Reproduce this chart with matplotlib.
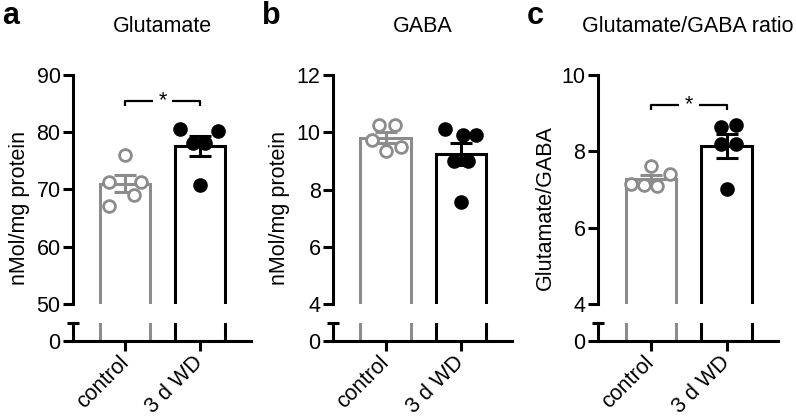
"""
Glutamate / GABA levels after 3 d withdrawal - three bar+scatter panels
with a broken y axis (GraphPad style).
"""

import matplotlib
matplotlib.use("Agg")
import matplotlib.pyplot as plt
import numpy as np

plt.rcParams["font.family"] = ["Liberation Sans", "DejaVu Sans"]

groups = ["control", "3 d WD"]

glu_ctrl = [76.1, 71.3, 71.3, 69.0, 67.2]
glu_wd = [80.6, 80.3, 78.2, 78.2, 70.7]
gaba_ctrl = [10.25, 10.25, 9.74, 9.48, 9.35]
gaba_wd = [10.1, 9.9, 9.9, 9.0, 9.0, 7.56]
ratio_ctrl = [7.62, 7.4, 7.15, 7.12, 7.1]
ratio_wd = [8.64, 8.69, 8.18, 8.18, 7.01]

# horizontal scatter of the dots
glu_ctrl_dx = [0.0, -0.22, 0.21, 0.11, -0.22]
glu_wd_dx = [-0.27, 0.24, -0.09, 0.07, 0.0]
gaba_ctrl_dx = [-0.09, 0.12, -0.18, 0.21, 0.0]
gaba_wd_dx = [-0.21, 0.03, 0.2, -0.09, 0.1, 0.0]
ratio_ctrl_dx = [0.0, 0.25, -0.27, -0.09, 0.08]
ratio_wd_dx = [-0.07, 0.12, -0.07, 0.13, 0.0]

GREY = "#8c8c8c"
FS = 15.5
W, H = 796, 420


def fig_rect(left, right, top, bottom):
    return [left / W, 1 - bottom / H, (right - left) / W, (bottom - top) / H]


def draw_bars(ax, data, dxs, with_points):
    for i, (vals, dx, col) in enumerate(zip(data, dxs, [GREY, "black"])):
        vals = np.asarray(vals)
        m = vals.mean()
        ax.bar(i, m, width=0.67, facecolor="white", edgecolor=col,
               linewidth=2.2, zorder=1)
        if not with_points:
            continue
        sem = vals.std(ddof=1) / np.sqrt(len(vals))
        ax.errorbar(i, m, yerr=sem, color=col, capsize=8, capthick=2.2,
                    elinewidth=2.2, zorder=2)
        face = "white" if i == 0 else "black"
        ax.plot(i + np.asarray(dx), vals, "o", ms=8.5, mfc=face, mec=col,
                mew=2, zorder=3, clip_on=False)


def panel(left, right, letter, title, ylabel, ylim, yticks, data, dxs, sig=None):
    fig = plt.gcf()
    top_ax = fig.add_axes(fig_rect(left, right, 75, 304))
    low_ax = fig.add_axes(fig_rect(left, right, 323, 341))

    for ax, pts in ((top_ax, True), (low_ax, False)):
        draw_bars(ax, data, dxs, pts)
        ax.set_xlim(-0.7, 1.68)
        ax.spines[["top", "right"]].set_visible(False)
        ax.spines["left"].set_linewidth(2.2)
        ax.spines["bottom"].set_linewidth(2.2)
        ax.tick_params(width=2.2, length=7, labelsize=FS, pad=2)

    top_ax.set_ylim(*ylim)
    top_ax.set_yticks(yticks)
    top_ax.spines["bottom"].set_visible(False)
    top_ax.set_xticks([])

    low_ax.set_ylim(0, 1)
    low_ax.set_yticks([0])
    low_ax.set_xticks([0, 1])
    low_ax.set_xticklabels(groups, rotation=45, ha="right", va="center",
                           rotation_mode="anchor", fontsize=FS)
    low_ax.tick_params(axis="x", pad=6)
    # break marker on top of the lower spine
    low_ax.plot([-0.035, 0.035], [1, 1], transform=low_ax.transAxes,
                color="black", lw=2.2, clip_on=False, solid_capstyle="butt")

    if sig is not None:
        y, drop = sig
        g = 0.13
        kw = dict(color="black", lw=1.6, solid_capstyle="butt", clip_on=False)
        top_ax.plot([0, 0, 0.5 - g], [y - drop, y, y], **kw)
        top_ax.plot([0.5 + g, 1, 1], [y, y, y - drop], **kw)
        top_ax.text(0.5, y, "*", ha="center", va="center", fontsize=FS)

    cx = (left + right) / 2
    fig.text(cx / W, 1 - 26 / H, title, ha="center", va="center", fontsize=FS)
    fig.text((left - 53) / W, 1 - 208 / H, ylabel, rotation=90,
             ha="center", va="center", fontsize=FS)
    fig.text((left - 71) / W, 1 - 16 / H, letter, ha="left", va="center",
             fontsize=22, fontweight="bold")


fig = plt.figure(figsize=(W / 100, H / 100), dpi=100)

panel(73, 251, "a", "Glutamate", "nMol/mg protein", (50, 90),
      [50, 60, 70, 80, 90], [glu_ctrl, glu_wd], [glu_ctrl_dx, glu_wd_dx],
      sig=(85.5, 0.9))
panel(333, 512, "b", "GABA", "nMol/mg protein", (4, 12),
      [4, 6, 8, 10, 12], [gaba_ctrl, gaba_wd], [gaba_ctrl_dx, gaba_wd_dx])
panel(598, 778, "c", "Glutamate/GABA ratio", "Glutamate/GABA", (4, 10),
      [4, 6, 8, 10], [ratio_ctrl, ratio_wd], [ratio_ctrl_dx, ratio_wd_dx],
      sig=(9.21, 0.13))

fig.savefig("out.png", dpi=100)
